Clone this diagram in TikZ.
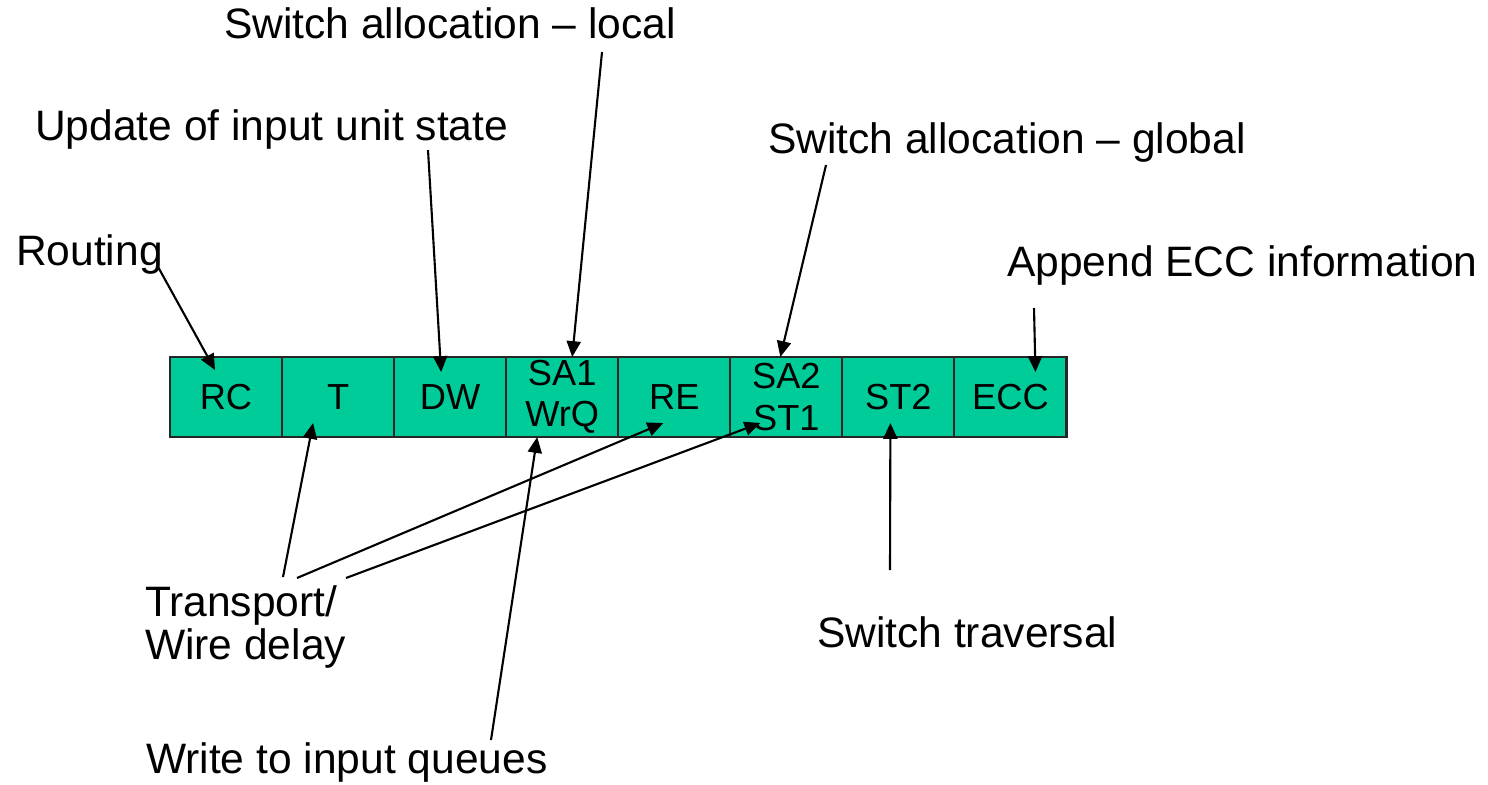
\documentclass[tikz,border=0pt]{standalone}
\usepackage{fontspec}
\setmainfont{Liberation Sans}
\usepackage{tikz}
\usetikzlibrary{positioning, arrows.meta}
\usepackage{xcolor}
\definecolor{stagegreen}{RGB}{0,204,153}
\newcommand{\lblfont}{\fontsize{12.1pt}{12pt}\selectfont}
\newcommand{\boxfont}{\fontsize{10.3pt}{11.7pt}\selectfont}

\begin{document}
\begin{tikzpicture}[
  x=0.01cm, y=-0.01cm,
  stage/.style={rectangle, draw=black!85, fill=stagegreen, minimum width=1.12cm,
                minimum height=0.8cm, inner sep=0pt, outer sep=0pt,
                font=\boxfont, align=center},
  lbl/.style={anchor=base west, inner sep=0pt, font=\lblfont, align=left},
  ->, >={Triangle[length=4.5pt, width=4pt]}, line width=0.6pt
]
  \path[use as bounding box] (0,0) rectangle (1488,785);

  % --- pipeline stages ---
  \node[stage] (rc) at (226,397) {RC};
  \node[stage] (t)   [right=0pt of rc]  {T};
  \node[stage] (dw)  [right=0pt of t]   {DW};
  \node[stage] (sa1) [right=0pt of dw]  {SA1\\WrQ};
  \node[stage] (re)  [right=0pt of sa1] {RE};
  \node[stage] (sa2) [right=0pt of re]  {SA2\\ST1};
  \node[stage] (st2) [right=0pt of sa2] {ST2};
  \node[stage] (ecc) [right=0pt of st2] {ECC};

  % --- labels above ---
  \node[lbl] (local)   at (223,39)   {Switch allocation -- local};
  \node[lbl] (update)  at (34,141)   {Update of input unit state};
  \node[lbl] (global)  at (767,153)  {Switch allocation -- global};
  \node[lbl] (routing) at (15,265)   {Routing};
  \node[lbl] (append)  at (1006,276) {Append ECC information};

  % --- labels below (base = last line) ---
  \node[lbl] (transport) at (144,659) {Transport/\\Wire delay};
  \node[lbl] (traversal) at (816,647) {Switch traversal};
  \node[lbl] (write)     at (145,773) {Write to input queues};

  % --- line ends near the labels ---
  \coordinate (routing-end) at (157,265);
  \coordinate (update-end)  at (428,150);
  \coordinate (local-end)   at (602,52);
  \coordinate (global-end)  at (826,165);
  \coordinate (append-end)  at (1034,308);
  \coordinate (wire-t)      at (283,577);
  \coordinate (wire-re)     at (297,578);
  \coordinate (wire-st1)    at (346,578);
  \coordinate (write-end)   at (491,740);
  \coordinate (trav-end)    at (890,570);

  % --- arrows into the stages ---
  \draw (routing-end) -- ([shift={(-11,13)}]rc.north);
  \draw (update-end)  -- ([shift={(-9,15)}]dw.north);
  \draw (local-end)   -- ([shift={(10,0)}]sa1.north);
  \draw (global-end)  -- ([shift={(-6,0)}]sa2.north);
  \draw (append-end)  -- ([shift={(25,15)}]ecc.north);
  \draw (wire-t)      -- ([shift={(-25,-14)}]t.south);
  \draw (wire-re)     -- ([shift={(-11,-14)}]re.south);
  \draw (wire-st1)    -- ([shift={(-26,-14)}]sa2.south);
  \draw (write-end)   -- ([shift={(-25,0)}]sa1.south);
  \draw (trav-end)    -- ([shift={(-8,-14)}]st2.south);
\end{tikzpicture}
\end{document}
